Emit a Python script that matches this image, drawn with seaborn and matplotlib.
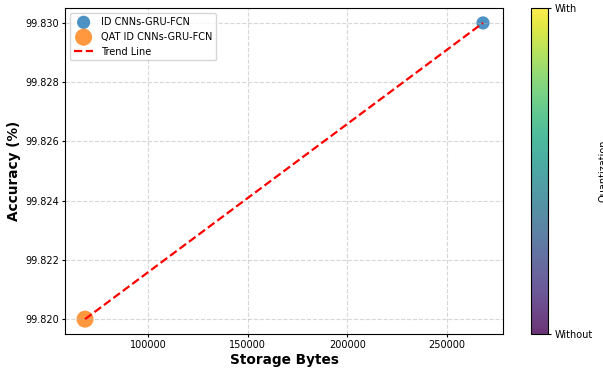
import numpy as np
import pandas as pd
import matplotlib
matplotlib.use("Agg")
import matplotlib.pyplot as plt
import seaborn as sns

models = ["ID CNNs-GRU-FCN", "QAT ID CNNs-GRU-FCN"]
storage_bytes = [268000, 68500]
accuracy = [99.830, 99.820]
marker_sizes = [90, 150]
colors = ["#1f77b4", "#ff7f0e"]

df = pd.DataFrame({"model": models, "bytes": storage_bytes, "acc": accuracy})

fig = plt.figure(figsize=(6.03, 3.69), dpi=100)
ax = fig.add_axes([0.108, 0.095, 0.726, 0.883])
cax = fig.add_axes([0.881, 0.095, 0.028, 0.883])

for i, row in df.iterrows():
    sns.scatterplot(x=[row["bytes"]], y=[row["acc"]], s=marker_sizes[i], color=colors[i],
                    alpha=0.8, edgecolor="none", label=row["model"], ax=ax)

sns.lineplot(x=storage_bytes[::-1], y=accuracy[::-1], color="red", linestyle="--",
             linewidth=1.6, label="Trend Line", ax=ax)

ax.set_xticks([100000, 150000, 200000, 250000])
ax.set_yticks(np.arange(99.820, 99.8301, 0.002))
ax.yaxis.set_major_formatter(matplotlib.ticker.FormatStrFormatter("%.3f"))
ax.tick_params(labelsize=7, length=2.5, pad=2)
ax.grid(True, linestyle="--", alpha=0.5)
ax.set_xlabel("Storage Bytes", fontsize=9.8, fontweight="bold", labelpad=2)
ax.set_ylabel("Accuracy (%)", fontsize=9.8, fontweight="bold", labelpad=3)
ax.legend(loc="upper left", fontsize=7)

sm = plt.cm.ScalarMappable(cmap="viridis", norm=plt.Normalize(0, 1))
cb = fig.colorbar(sm, cax=cax, alpha=0.8)
cb.set_ticks([0, 1])
cb.set_ticklabels(["Without", "With"])
cb.ax.tick_params(labelsize=7, length=2.5, pad=2)
cb.set_label("Quantization", fontsize=7)

fig.savefig("out.png", dpi=100)
